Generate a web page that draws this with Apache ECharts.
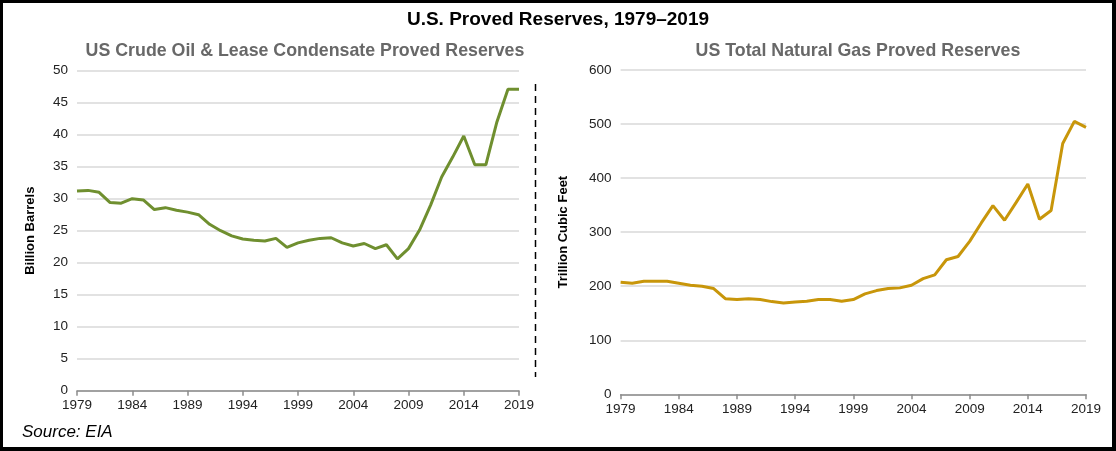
<!DOCTYPE html>
<html>
<head>
<meta charset="utf-8">
<script src="https://cdn.jsdelivr.net/npm/echarts@6/dist/echarts.min.js"></script>
<style>
html,body{margin:0;padding:0;background:#fff;}
#wrap{position:relative;width:1116px;height:451px;box-sizing:border-box;border-style:solid;border-color:#000;border-width:3px 4px 4px 3px;}
#chart{position:absolute;left:-3px;top:-3px;width:1116px;height:451px;}
</style>
</head>
<body>
<div id="wrap"><div id="chart"></div></div>
<script>
const years = [];
for (let y = 1979; y <= 2019; y++) years.push(String(y));

const oilReserves = [31.2,31.3,31.0,29.4,29.3,30.0,29.8,28.3,28.6,28.2,27.9,27.5,26.0,25.0,24.2,23.7,23.5,23.4,23.8,22.4,23.1,23.5,23.8,23.9,23.1,22.6,23.0,22.2,22.8,20.6,22.2,25.1,29.0,33.4,36.5,39.8,35.3,35.3,42.0,47.1,47.1];

const gasReserves = [207.4,205.5,209,209,209,205.5,201.8,200,195.6,177,175.3,177,175.3,171.5,169.1,170.9,172,175.3,175.3,172,175.3,185.7,191.9,195.6,196.9,201.8,214,221,249,255,283,317,349,322,355,389,324,340,464,505,494];

const oilTicks = {min:0, max:50, interval:5};
const gasTicks = {min:0, max:600, interval:100};

const chart = echarts.init(document.getElementById('chart'));
const FONT = 'Liberation Sans, Arial, sans-serif';
const gridLine = {show:true, lineStyle:{color:'#d9d9d9', width:1.5}};
const xAxisCommon = {
  type:'category', data:years, boundaryGap:false,
  axisLine:{lineStyle:{color:'#8c8c8c', width:1.5}},
  axisTick:{show:true, interval:4, length:5, lineStyle:{color:'#8c8c8c', width:1.5}},
  axisLabel:{interval:4, color:'#222', fontSize:13.5, fontFamily:FONT, margin:8},
  splitLine:{show:false}
};
const yAxisCommon = {
  type:'value',
  axisLine:{show:false}, axisTick:{show:false},
  axisLabel:{color:'#222', fontSize:13.5, fontFamily:FONT, margin:9},
  splitLine:gridLine,
  nameLocation:'middle',
  nameTextStyle:{color:'#000', fontWeight:'bold', fontSize:13, fontFamily:FONT}
};

chart.setOption({
  animation:false,
  title:[
    {text:'U.S. Proved Reserves, 1979\u20132019', left:'center', top:5,
     textStyle:{fontSize:19, fontWeight:'bold', color:'#000', fontFamily:FONT}},
    {text:'US Crude Oil & Lease Condensate Proved Reserves', left:300, textAlign:'center', top:37,
     textStyle:{fontSize:17.8, fontWeight:'bold', color:'#686868', fontFamily:FONT}},
    {text:'US Total Natural Gas Proved Reserves', left:853, textAlign:'center', top:37,
     textStyle:{fontSize:17.8, fontWeight:'bold', color:'#686868', fontFamily:FONT}}
  ],
  grid:[
    {left:77, top:70.7, width:442, height:320},
    {left:620.6, top:70, width:465.4, height:324.3}
  ],
  xAxis:[
    Object.assign({gridIndex:0}, xAxisCommon),
    Object.assign({gridIndex:1}, xAxisCommon)
  ],
  yAxis:[
    Object.assign({gridIndex:0, name:'Billion Barrels', nameGap:40}, yAxisCommon, oilTicks),
    Object.assign({gridIndex:1, name:'Trillion Cubic Feet', nameGap:51}, yAxisCommon, gasTicks)
  ],
  series:[
    {type:'line', xAxisIndex:0, yAxisIndex:0, data:oilReserves, symbol:'none',
     lineStyle:{color:'#6f8f2f', width:3}},
    {type:'line', xAxisIndex:1, yAxisIndex:1, data:gasReserves, symbol:'none',
     lineStyle:{color:'#c8960a', width:3}}
  ],
  graphic:[
    {type:'line', shape:{x1:535.5, y1:84, x2:535.5, y2:377},
     style:{stroke:'#000', lineWidth:1.5, lineDash:[7,5]}},
    {type:'text', left:22, top:424,
     style:{text:'Source: EIA', fontSize:17, fontStyle:'italic', fill:'#000', fontFamily:FONT}}
  ]
});
</script>
</body>
</html>
